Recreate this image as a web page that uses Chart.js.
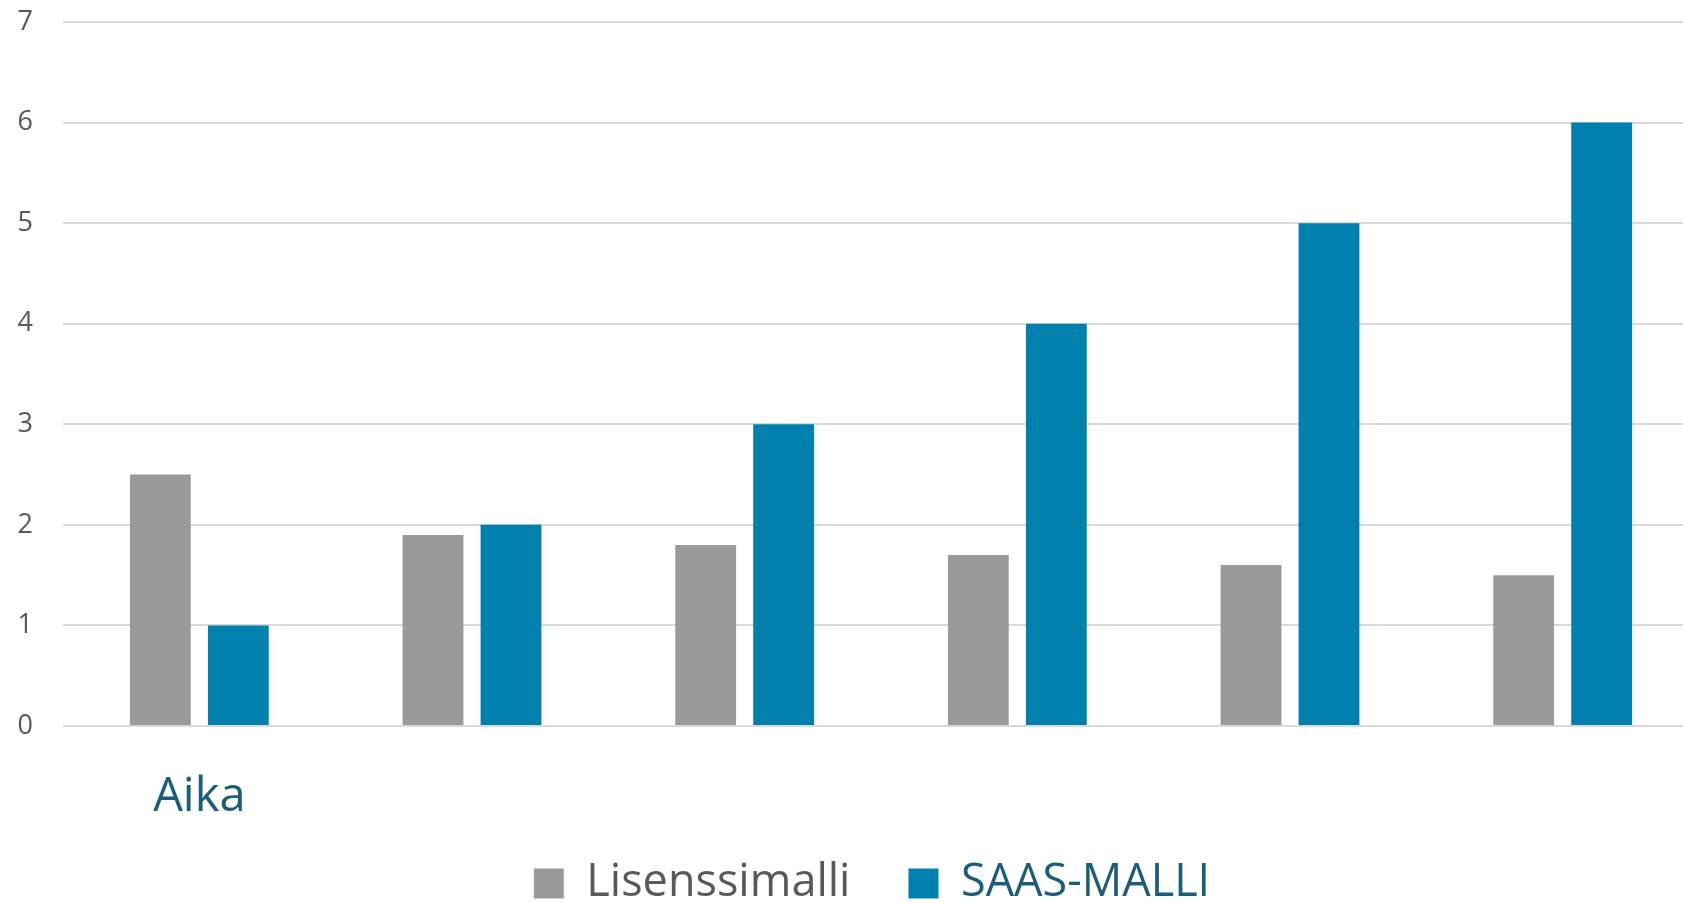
<!DOCTYPE html>
<html>
<head>
<meta charset="utf-8">
<script src="https://cdn.jsdelivr.net/npm/chart.js@4.4.1/dist/chart.umd.min.js"></script>
<style>
  html, body { margin: 0; padding: 0; background: #fff; overflow: hidden; }
  #wrap { width: 1834px; height: 903px; }
</style>
</head>
<body>
<div id="wrap"><canvas id="chart"></canvas></div>
<script>
// data
const categories = ['Aika', '', '', '', '', ''];
const lisenssiValues = [2.5, 1.9, 1.8, 1.7, 1.6, 1.5];
const saasValues = [1, 2, 3, 4, 5, 6];
const yTicks = [0, 1, 2, 3, 4, 5, 6, 7];

const GRAY = '#9a9a9a';
const BLUE = '#0080ad';
const TEAL_TEXT = '#1b5e7c';
const AXIS_TEXT = '#595959';

const noClip = () => undefined;

const ctx = document.getElementById('chart').getContext('2d');
new Chart(ctx, {
  type: 'bar',
  data: {
    labels: categories,
    datasets: [
      { label: 'Lisenssimalli', data: lisenssiValues, backgroundColor: GRAY, fontColor: AXIS_TEXT },
      { label: 'SAAS-MALLI', data: saasValues, backgroundColor: BLUE, fontColor: TEAL_TEXT }
    ]
  },
  options: {
    responsive: true,
    maintainAspectRatio: false,
    devicePixelRatio: 1,
    animation: false,
    categoryPercentage: 0.572,
    barPercentage: 0.78,
    // left padding pushes the centred legend right, the y labels spill into it
    layout: { padding: { top: 22, right: 135, left: 45, bottom: 0 } },
    plugins: {
      tooltip: { enabled: false },
      legend: {
        position: 'bottom',
        maxHeight: 100,
        labels: {
          boxWidth: 30,
          boxHeight: 30,
          padding: 58,
          font: { family: 'Open Sans', size: 45 },
          generateLabels: (chart) => {
            const items = Chart.defaults.plugins.legend.labels.generateLabels(chart);
            items.forEach(it => {
              it.fontColor = chart.data.datasets[it.datasetIndex].fontColor;
              it.lineWidth = 0;
            });
            return items;
          }
        }
      }
    },
    scales: {
      x: {
        grid: { display: false },
        border: { display: false },
        afterFit: (scale) => {
          // short axis so the legend sits where it does; big "Aika" spills below
          scale.height = 77;
          scale._computeLabelArea = noClip;
        },
        ticks: {
          color: TEAL_TEXT,
          font: { family: 'Open Sans', size: 47 },
          padding: 35,
          maxRotation: 0,
          autoSkip: false
        }
      },
      y: {
        min: 0,
        max: 7,
        afterBuildTicks: (scale) => { scale.ticks = yTicks.map(v => ({ value: v })); },
        afterFit: (scale) => {
          scale.width = 18;
          scale.paddingTop = 0;
          scale.paddingBottom = 0;
          scale._computeLabelArea = noClip;
        },
        grid: { color: '#d9d9d9', lineWidth: 2, drawTicks: false },
        border: { display: false },
        ticks: {
          color: AXIS_TEXT,
          font: { family: 'Open Sans', size: 27 },
          padding: 30
        }
      }
    }
  }
});
</script>
</body>
</html>
